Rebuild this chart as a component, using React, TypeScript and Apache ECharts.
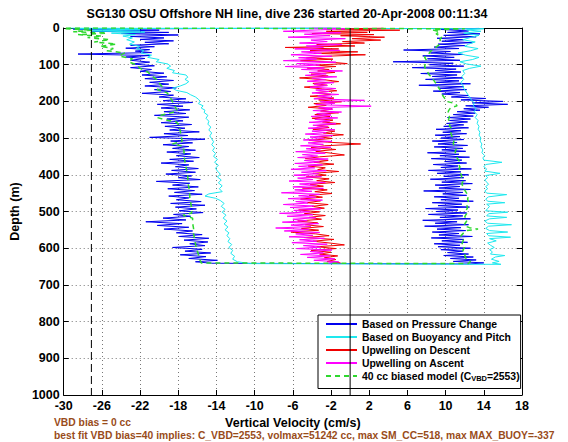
import React, { useEffect, useRef } from "react";
import * as echarts from "echarts";

// ---- axes ----
const X_MIN = -30;
const X_MAX = 18;
const X_STEP = 4;
const Y_MIN = 0;
const Y_MAX = 1000;
const Y_STEP = 100;

const TITLE = "SG130 OSU Offshore NH line, dive 236 started 20-Apr-2008 00:11:34";
const X_NAME = "Vertical Velocity (cm/s)";
const Y_NAME = "Depth (m)";
const NOTE_1 = "VBD bias = 0 cc";
const NOTE_2 = "best fit VBD bias=40 implies: C_VBD=2553, volmax=51242 cc, max SM_CC=518, max MAX_BUOY=-337";

const SERIES_NAMES = [
  "Based on Pressure Change",
  "Based on Buoyancy and Pitch",
  "Upwelling on Descent",
  "Upwelling on Ascent",
  "40 cc biased model (C_VBD=2553)",
];

// reference vertical lines (cm/s)
const ZERO_LINE = 0;
const BIAS_LINE = -27.1;

// ---- data: [velocity cm/s, depth m] ----
const BLUE_DESC = [
  [-1, 0], [-29, 3], [-20, 6], [-27, 9], [-19, 12], [-24, 15], [-18, 19], [-23, 23], [-19.5, 27], [-22, 31],
  [-18.5, 35], [-21.5, 39], [-19, 43], [-23, 47], [-20.5, 51], [-23.5, 55], [-21, 59], [-22.5, 63], [-20.8, 67],
  [-28.5, 71], [-21, 75], [-23.5, 79], [-21.5, 83], [-23, 88], [-21, 93], [-22.8, 98], [-20.5, 103], [-23, 108],
  [-20.8, 113], [-22, 118], [-19.5, 123], [-21.8, 128], [-19.2, 133], [-21.5, 138], [-18.5, 143], [-21, 148],
  [-19, 153], [-21.5, 158], [-18.2, 163], [-20.5, 168], [-18.8, 173], [-21.8, 178], [-18.5, 183], [-20, 188],
  [-17.2, 193], [-19.6, 198], [-16.5, 203], [-20.2, 208], [-17.5, 213], [-19.8, 218], [-16.8, 223], [-19.5, 228],
  [-17.2, 233], [-20.5, 238], [-16.9, 243], [-19.2, 248], [-17.5, 253], [-19.8, 258], [-16.6, 263], [-19.4, 268],
  [-17.3, 273], [-18.9, 278], [-15.8, 283], [-19.5, 288], [-17, 293], [-21, 298], [-15.2, 303], [-18.8, 308],
  [-16.5, 313], [-19.6, 318], [-16.9, 323], [-18.6, 328], [-16.2, 333], [-19.2, 338], [-16.7, 343], [-18.2, 348],
  [-15.8, 353], [-18.9, 358], [-16.4, 363], [-19.8, 368], [-16.9, 373], [-18.3, 378], [-15.9, 383], [-18.7, 388],
  [-16.2, 393], [-19.3, 398], [-16.6, 403], [-18, 408], [-15.7, 413], [-20.3, 418], [-16.8, 423], [-18.6, 428],
  [-15.9, 433], [-19.1, 438], [-16.3, 443], [-18.4, 448], [-15.5, 453], [-19, 458], [-16.9, 463], [-18.2, 468],
  [-15.6, 473], [-18.8, 478], [-15.2, 483], [-18.3, 488], [-16.1, 493], [-17.9, 498], [-15.4, 503], [-18.5, 508],
  [-16.7, 513], [-19.6, 518], [-17.2, 523], [-21.4, 528], [-17.6, 533], [-20.2, 538], [-16.9, 543], [-19.5, 548],
  [-16.5, 553], [-18.2, 558], [-15.5, 563], [-17.9, 568], [-14.8, 573], [-17.4, 578], [-14.9, 583], [-16.8, 588],
  [-15.2, 593], [-18.6, 598], [-15.5, 603], [-17.3, 608], [-14.6, 613], [-17.8, 618], [-15.1, 623], [-16.9, 628],
  [-13.9, 633], [-16.2, 637], [-14.5, 641],
];
const BLUE_ASC = [
  [12.5, 643], [14, 640], [10.8, 636], [13.2, 632], [10.5, 628], [12.9, 624], [9.8, 620], [12.4, 616], [10.2, 612],
  [11.8, 608], [9.5, 604], [12.6, 600], [9.2, 596], [11.5, 592], [8.8, 588], [12.3, 584], [9.6, 580], [11.9, 576],
  [8.5, 572], [12.8, 568], [9.3, 564], [11.4, 560], [8.6, 556], [12.1, 552], [9.1, 548], [11.6, 544], [7.8, 540],
  [12.4, 536], [8.9, 532], [11.2, 528], [7.6, 524], [12.6, 520], [9.4, 516], [11.8, 512], [8.2, 508], [12.2, 504],
  [9, 500], [11.3, 496], [7.9, 492], [12.5, 488], [9.2, 484], [11.7, 480], [8.6, 476], [12.9, 472], [9.5, 468],
  [11.4, 464], [8.8, 460], [12.2, 456], [9.7, 452], [11.8, 448], [7.7, 444], [12.6, 440], [9.3, 436], [11.5, 432],
  [8.9, 428], [12.8, 424], [9.6, 420], [12.1, 416], [8.4, 412], [11.9, 408], [9.8, 404], [12.4, 400], [9.1, 396],
  [11.6, 392], [8.2, 388], [12.7, 384], [9.5, 380], [11.3, 376], [8.7, 372], [12.2, 368], [9.9, 364], [11.7, 360],
  [8.5, 356], [12.5, 352], [9.4, 348], [11.4, 344], [8.1, 340], [12.1, 336], [9.6, 332], [11.8, 328], [8.8, 324],
  [12.3, 320], [9.2, 316], [11.2, 312], [8.6, 308], [11.9, 304], [9.5, 300], [11.5, 296], [8.9, 292], [12.2, 288],
  [9.7, 284], [11.6, 280], [9, 276], [12.4, 272], [9.8, 268], [11.9, 264], [10.1, 260], [12.3, 256], [10.4, 252],
  [12.6, 248], [10.2, 244], [12.9, 240], [10.8, 236], [13.1, 232], [11.2, 228], [13.6, 224], [11.9, 220],
  [14.5, 216], [12.1, 212], [16.5, 208], [12.8, 204], [16, 200], [11.6, 196], [14.2, 192], [10.6, 188],
  [12.4, 184], [9.6, 180], [11.5, 176], [8.7, 172], [12.2, 168], [9.3, 164], [11.9, 160], [7.2, 156], [12.6, 152],
  [9, 148], [11.4, 144], [7.9, 140], [11.8, 136], [8.6, 132], [11.2, 128], [7.4, 124], [11.6, 120], [8.9, 116],
  [11.1, 112], [6.5, 108], [11.9, 104], [8.3, 100], [10.8, 96], [4.5, 92], [11.5, 88], [8.1, 84], [10.9, 80],
  [7.6, 76], [11.8, 72], [8.4, 68], [10.5, 64], [5.6, 60], [11.4, 56], [8.8, 52], [12, 48], [9.2, 44], [12.8, 40],
  [9.6, 36], [11.9, 32], [9.1, 28], [13.2, 24], [9.8, 20], [13.6, 16], [10.2, 12], [12.4, 8], [9.5, 4], [13.5, 1],
];

const CYAN_DESC = [
  [-2, 0], [-28.5, 2], [-22, 5], [-27, 8], [-21.5, 11], [-25, 14], [-22.5, 18], [-23.8, 22], [-22.8, 27],
  [-23.4, 32], [-22.6, 38], [-23.1, 44], [-22, 50], [-22.4, 56], [-21.6, 62], [-21.9, 68], [-20.8, 74], [-21.2, 80],
  [-20, 86], [-20.3, 92], [-19.1, 98], [-18.8, 104], [-19.2, 110], [-18.4, 116], [-18.6, 122], [-17.2, 128],
  [-17, 134], [-17.3, 140], [-16.9, 146], [-17.2, 152], [-17.8, 158], [-18.6, 164], [-18.2, 170], [-17.1, 176],
  [-16.7, 182], [-16.2, 188], [-15.9, 194], [-15.7, 200], [-15.9, 206], [-15.4, 212], [-15.6, 218], [-15.2, 224],
  [-15.3, 230], [-14.9, 238], [-15.1, 246], [-14.8, 254], [-14.9, 262], [-14.6, 270], [-14.8, 278], [-14.5, 286],
  [-14.7, 294], [-14.5, 302], [-14.3, 310], [-14.5, 318], [-14.2, 326], [-14.4, 334], [-14.1, 342], [-14.3, 350],
  [-13.9, 358], [-14.2, 366], [-13.8, 374], [-14.1, 382], [-13.9, 390], [-13.6, 398], [-13.9, 406], [-13.5, 414],
  [-13.8, 422], [-13.4, 430], [-13.7, 438], [-13.4, 446], [-14.8, 452], [-15.2, 458], [-14.1, 464], [-13.6, 470],
  [-13.2, 478], [-13.5, 486], [-13.1, 494], [-13.4, 502], [-13, 510], [-13.3, 518], [-12.9, 526], [-13.2, 534],
  [-12.8, 542], [-13.1, 550], [-12.7, 558], [-12.9, 566], [-12.6, 574], [-12.8, 582], [-12.4, 590], [-12.7, 598],
  [-12.3, 606], [-12.5, 614], [-12.1, 622], [-12.3, 630], [-11.8, 637], [-10.5, 642],
];
const CYAN_ASC = [
  [15.8, 644], [14.9, 640], [15.6, 636], [14.8, 630], [15.2, 624], [16.2, 620], [14.7, 616], [14.9, 610],
  [14.6, 604], [15.1, 598], [14.7, 592], [14.4, 586], [15.3, 580], [14.6, 574], [16.8, 570], [14.5, 566],
  [14.3, 560], [16.5, 556], [14.6, 552], [14.2, 546], [14.5, 540], [16.9, 536], [14.4, 532], [14.1, 526],
  [14.6, 520], [16.4, 516], [14.3, 512], [14.5, 506], [16.5, 502], [14.2, 498], [14.4, 492], [14.6, 486],
  [14.3, 480], [16.2, 476], [14.4, 472], [14.2, 466], [14.5, 460], [16.4, 454], [14.3, 450], [14.1, 444],
  [14.4, 438], [14.2, 432], [14.5, 426], [14.3, 420], [14.1, 414], [14.4, 408], [14.2, 402], [15.7, 396],
  [14.1, 390], [14.3, 384], [14, 378], [14.2, 372], [15.9, 366], [14, 360], [13.9, 354], [14.1, 348], [13.8, 340],
  [13.9, 332], [13.7, 324], [13.8, 316], [13.6, 308], [13.7, 300], [13.5, 292], [13.6, 284], [13.4, 276],
  [13.5, 268], [13.3, 260], [13.4, 252], [13.1, 244], [13.3, 236], [13, 228], [13.2, 220], [12.9, 212], [13, 204],
  [12.7, 196], [12.5, 188], [12.3, 180], [12.1, 172], [11.9, 164], [11.8, 156], [11.6, 148], [11.9, 140],
  [11.7, 132], [12, 124], [11.8, 116], [12.5, 110], [13.7, 104], [12.2, 98], [11.5, 92], [12.8, 86], [13.5, 80],
  [12.1, 74], [11.3, 68], [12.6, 62], [13.4, 56], [12, 50], [12.4, 44], [13.1, 38], [11.8, 32], [12.6, 26],
  [13.5, 20], [11.9, 14], [13.7, 9], [12.2, 5], [14, 2], [-29.5, 0],
];

const RED_DESC = [
  [3.5, 0], [-1.5, 3], [5.2, 6], [-2.5, 9], [1.8, 12], [-4, 15], [2.5, 18], [-1, 21], [3.6, 25], [0.2, 29],
  [3.2, 33], [-0.8, 37], [1.5, 41], [-3.5, 45], [0.5, 49], [-6.8, 53], [-1.2, 57], [-4.2, 61], [0.8, 65],
  [-3.8, 69], [1.6, 73], [-2.5, 77], [-4.6, 81], [-1.8, 85], [-5.2, 89], [-2.1, 93], [-0.3, 97], [-3.6, 101],
  [-1.5, 105], [-4.5, 109], [-2.2, 113], [-3.4, 117], [-1.6, 121], [-4.1, 126], [-2.3, 131], [-5.3, 136],
  [-2.7, 141], [-1.2, 146], [-3.9, 151], [-2.4, 156], [-4.8, 161], [-2.9, 166], [-1.4, 171], [-3.6, 176],
  [-2, 181], [-4.2, 186], [-1.7, 191], [-3.3, 196], [-0.9, 201], [-3.8, 206], [-2.5, 211], [-4.4, 216],
  [-1.9, 221], [-3.1, 226], [-1.2, 231], [-3.7, 236], [-2.1, 241], [-4, 246], [-1.8, 251], [-2.9, 256], [-1, 261],
  [-3.5, 266], [-2.2, 271], [-3.9, 276], [-1.6, 281], [-2.8, 286], [-0.7, 291], [-3.3, 296], [-1.9, 301],
  [-4.3, 306], [-2.4, 311], [1.1, 316], [-2.7, 321], [-4.1, 326], [-1.5, 331], [-3.6, 336], [-2, 341], [-0.6, 346],
  [-3.2, 351], [-4.7, 356], [-2.3, 361], [-3.8, 366], [-1.7, 371], [-4.4, 376], [-2.6, 381], [-3.4, 386],
  [-1.2, 391], [-3.9, 396], [-2.5, 401], [-4.6, 406], [-2.2, 411], [-3.5, 416], [-1.6, 421], [-4.2, 426],
  [-2.8, 431], [-5, 436], [-2.4, 441], [-3.7, 446], [-1.9, 451], [-4.3, 456], [-2.9, 461], [-5.2, 466],
  [-3.1, 471], [-4.5, 476], [-2.3, 481], [-4, 486], [-2.7, 491], [-5.4, 496], [-3.2, 501], [-4.8, 506],
  [-2.6, 511], [-4.3, 516], [-3, 521], [-5.5, 526], [-3.4, 531], [-4.7, 536], [-2.8, 541], [-5.1, 546],
  [-3.3, 551], [-6.2, 556], [-3.6, 561], [-2.2, 566], [-4.8, 571], [-1.7, 576], [-3.9, 581], [-2.1, 586],
  [-0.6, 591], [-3.5, 596], [-1.5, 601], [-4.1, 606], [-2, 611], [-3.2, 616], [-1.3, 621], [-2.7, 626],
  [-1.5, 631], [-2.4, 636], [-1, 640],
];

const MAGENTA_ASC = [
  [-2.5, 641], [-1.2, 637], [-3.8, 633], [-1.6, 629], [-4.5, 625], [-2.1, 621], [-5.2, 617], [-2.8, 613],
  [-4.2, 609], [-1.9, 605], [-5.6, 601], [-3.1, 597], [-4.9, 593], [-2.4, 589], [-6.1, 585], [-3.5, 581],
  [-5.3, 577], [-2.7, 573], [-6.4, 569], [-3.9, 565], [-5.7, 561], [-3.2, 557], [-6.9, 553], [-4.3, 549],
  [-7.8, 545], [-4.1, 541], [-6.2, 537], [-3.3, 533], [-7.1, 529], [-4.5, 525], [-6, 521], [-3.6, 517],
  [-6.6, 513], [-3.9, 509], [-7.4, 505], [-4.2, 501], [-5.9, 497], [-3.1, 493], [-6.3, 489], [-3.8, 485],
  [-7, 481], [-4.4, 477], [-5.7, 473], [-2.9, 469], [-6.5, 465], [-3.6, 461], [-5.4, 457], [-3.2, 453],
  [-7.2, 449], [-4, 445], [-5.8, 441], [-2.8, 437], [-6, 433], [-3.5, 429], [-5.3, 425], [-2.6, 421],
  [-6.4, 417], [-3.9, 413], [-5.5, 409], [-3, 405], [-5.9, 401], [-3.3, 397], [-5.1, 393], [-2.5, 389],
  [-6.2, 385], [-3.7, 381], [-5.4, 377], [-2.9, 373], [-5.8, 369], [-3.2, 365], [-4.8, 361], [-2.3, 357],
  [-5.5, 353], [-3.4, 349], [-5, 345], [-2.6, 341], [-5.7, 337], [-3.1, 333], [-4.6, 329], [-2, 325],
  [-5.2, 321], [-2.8, 317], [-4.4, 313], [-1.9, 309], [-4.9, 305], [-2.7, 301], [-4.2, 297], [-1.8, 293],
  [-4.7, 289], [-2.5, 285], [-4, 281], [-1.6, 277], [-4.4, 273], [-2.3, 269], [-3.9, 265], [-1.5, 261],
  [-4.3, 257], [-2.1, 253], [-3.7, 249], [-1.3, 245], [-4.1, 241], [-2, 237], [-3.5, 233], [-0.9, 229],
  [-3.9, 225], [-1.8, 221], [-3.3, 217], [2.2, 213], [-3.6, 209], [-1.6, 205], [-3.1, 201], [1.5, 197],
  [-3.8, 193], [-1.9, 189], [-3.4, 185], [-1.2, 181], [-4, 177], [-2.2, 173], [-3.6, 169], [-1.5, 165],
  [-4.2, 161], [-2.4, 157], [-3.8, 153], [-1.7, 149], [-4.5, 145], [-2.6, 141], [-4, 137], [-1.4, 133],
  [-4.7, 129], [-2.5, 125], [-4.3, 121], [-0.8, 117], [-5.1, 113], [-2.7, 109], [-6.8, 105], [-3.2, 101],
  [-5.6, 97], [-1.5, 93], [-7, 89], [-3.5, 85], [-5.4, 81], [-1.9, 77], [-6.2, 73], [-3, 69], [-5.1, 65],
  [-1.1, 61], [-5.8, 57], [-2.8, 53], [-4.6, 49], [-0.9, 45], [-5.3, 41], [-2.4, 37], [-4.1, 33], [-0.5, 29],
  [-6.5, 25], [-2.1, 21], [-4.8, 17], [-1, 13], [-7, 9], [-3.1, 5], [-0.3, 2], [-4, 0],
];

const GREEN_DESC = [
  [-29.8, 2], [-27, 6], [-29, 10], [-25.5, 14], [-28.5, 18], [-26, 22], [-27.5, 26], [-25.2, 32], [-26.8, 38],
  [-24.5, 44], [-26.2, 50], [-24.8, 56], [-25.5, 62], [-23.6, 68], [-24.2, 76], [-22.8, 84], [-23.2, 92],
  [-22.4, 100], [-22, 110], [-21.2, 120], [-20.8, 130], [-20.3, 140], [-20, 150], [-19.7, 160], [-20.2, 168],
  [-19.2, 176], [-18.9, 186], [-18.7, 196], [-18.5, 206], [-18.3, 216], [-18.1, 226], [-18.9, 232], [-19.8, 238],
  [-20.2, 244], [-19.4, 250], [-18.2, 256], [-17.9, 266], [-17.8, 280], [-17.7, 294], [-17.6, 308], [-18.6, 316],
  [-17.5, 322], [-17.4, 336], [-17.4, 350], [-17.3, 364], [-17.2, 378], [-17.1, 392], [-17, 406], [-17, 420],
  [-16.9, 434], [-16.8, 448], [-16.8, 462], [-16.7, 476], [-16.6, 490], [-16.6, 504], [-17.5, 510], [-16.5, 518],
  [-16.5, 532], [-16.4, 546], [-16.4, 560], [-16.3, 574], [-16.2, 588], [-16.1, 602], [-15.9, 616], [-15.8, 628],
  [-15.6, 640],
];
const GREEN_ASC = [
  [12.4, 642], [12.6, 636], [12.2, 630], [12, 622], [12.1, 614], [11.8, 606], [12, 598], [11.7, 590], [11.8, 582],
  [11.9, 574], [11.6, 566], [11.9, 558], [12.2, 552], [13.4, 548], [12.5, 544], [11.9, 538], [12.1, 530],
  [12.3, 522], [12, 514], [12.2, 506], [12.1, 498], [12.3, 490], [12.2, 482], [12.4, 474], [12.3, 466],
  [12.4, 458], [12.2, 450], [12, 442], [11.9, 434], [11.7, 426], [11.8, 418], [11.6, 410], [11.7, 402],
  [11.5, 394], [11.4, 386], [11.5, 378], [11.3, 370], [11.4, 362], [11.2, 354], [11.1, 346], [11, 338],
  [11.1, 330], [10.9, 322], [10.8, 314], [10.9, 306], [10.7, 298], [10.6, 290], [10.5, 282], [10.6, 274],
  [10.4, 266], [10.5, 258], [10.3, 250], [10.4, 242], [10.2, 234], [10.3, 226], [10.5, 218], [11.2, 212],
  [11, 206], [10.1, 200], [9.9, 192], [9.7, 184], [9.6, 176], [9.4, 168], [9.2, 160], [9, 152], [8.8, 144],
  [8.6, 136], [8.3, 128], [8.1, 120], [7.9, 112], [7.8, 104], [7.9, 96], [8, 88], [7.8, 80], [8.2, 72], [8.4, 64],
  [8.8, 56], [9.2, 48], [9.5, 40], [9.4, 32], [9.6, 24], [9, 16], [9.4, 10], [8.6, 5], [12, 2], [-30, 0],
];

const COLORS = ["#0000ee", "#1ee8ee", "#f00000", "#ff00ff", "#2ed82e"];
const FONT = "'Liberation Sans', Arial, Helvetica, sans-serif";
const NOTE_COLOR = "#994c1a";

// shift so that the axis starts at 0 (ticks counted from min)
const toXY = (pts: number[][]) => pts.map(([v, d]) => [v - X_MIN, d]);

export default function App() {
  const ref = useRef<HTMLDivElement>(null);

  useEffect(() => {
    document.body.style.margin = "0";
    if (!ref.current) return;
    const chart = echarts.init(ref.current, undefined, { renderer: "svg" });

    const xTickCommon = {
      type: "value" as const,
      min: 0,
      max: X_MAX - X_MIN,
      interval: X_STEP,
      axisLine: { show: true, onZero: false, lineStyle: { color: "#000", width: 1 } },
      axisTick: { show: true, inside: true, length: 5, lineStyle: { color: "#000" } },
    };
    const yTickCommon = {
      type: "value" as const,
      min: Y_MIN,
      max: Y_MAX,
      interval: Y_STEP,
      inverse: true,
      axisLine: { show: true, onZero: false, lineStyle: { color: "#000", width: 1 } },
      axisTick: { show: true, inside: true, length: 5, lineStyle: { color: "#000" } },
    };
    const gridLine = { show: true, lineStyle: { color: "#777", type: [1, 3] as number[], width: 1 } };
    const labelStyle = { color: "#000", fontWeight: "bold" as const, fontSize: 12.5, fontFamily: FONT };

    const lineSeries = (name: string, data: number[][], color: string, z: number, dashed = false) => ({
      type: "line" as const,
      name,
      data: toXY(data),
      showSymbol: false,
      symbol: "none",
      silent: true,
      z,
      lineStyle: { color, width: dashed ? 1.5 : 1, type: dashed ? ([5, 4] as number[]) : "solid" },
      itemStyle: { color },
    });

    const vline = (v: number, dashed: boolean) => ({
      type: "line" as const,
      data: toXY([[v, Y_MIN], [v, Y_MAX]]),
      showSymbol: false,
      symbol: "none",
      silent: true,
      z: 10,
      lineStyle: { color: "#000", width: 1, type: dashed ? ([8, 4] as number[]) : "solid" },
    });

    chart.setOption({
      animation: false,
      backgroundColor: "#fff",
      grid: { left: 53, right: 46, top: 28, bottom: 47 },
      xAxis: [
        {
          ...xTickCommon,
          position: "bottom",
          name: X_NAME,
          nameLocation: "middle",
          nameGap: 17,
          nameTextStyle: { ...labelStyle },
          axisLabel: { ...labelStyle, margin: 4, formatter: (val: number) => String(val + X_MIN) },
          splitLine: gridLine,
        },
        {
          ...xTickCommon,
          position: "top",
          axisLabel: { show: false },
          splitLine: { show: false },
        },
      ],
      yAxis: [
        {
          ...yTickCommon,
          position: "left",
          name: Y_NAME,
          nameLocation: "middle",
          nameGap: 32,
          nameRotate: 90,
          nameTextStyle: { ...labelStyle },
          axisLabel: { ...labelStyle, margin: 4, formatter: (val: number) => String(val) },
          splitLine: gridLine,
        },
        {
          ...yTickCommon,
          position: "right",
          axisLabel: { show: false },
          splitLine: { show: false },
        },
      ],
      legend: {
        orient: "vertical",
        left: 318,
        top: 315,
        padding: [4, 1, 6, 7],
        itemWidth: 31,
        itemHeight: 10,
        itemGap: 3,
        selectedMode: false,
        backgroundColor: "#fff",
        borderColor: "#000",
        borderWidth: 1,
        borderRadius: 0,
        itemStyle: { opacity: 0 },
        data: SERIES_NAMES,
        formatter: (name: string) => name.replace("C_VBD", "C{sub|VBD}"),
        textStyle: {
          color: "#000",
          fontWeight: "bold",
          fontSize: 10.4,
          fontFamily: FONT,
          rich: {
            sub: { fontSize: 7.5, fontWeight: "bold", fontFamily: FONT, color: "#000", padding: [5, 0, 0, 0] },
          },
        },
      },
      graphic: [
        {
          type: "text",
          x: 287,
          y: 14,
          style: { text: TITLE, fill: "#000", fontSize: 12.5, fontWeight: "bold", fontFamily: FONT, align: "center", verticalAlign: "middle" },
        },
        {
          type: "text",
          x: 54,
          y: 422,
          style: { text: NOTE_1, fill: NOTE_COLOR, fontSize: 10.3, fontWeight: "bold", fontFamily: FONT, align: "left", verticalAlign: "middle" },
        },
        {
          type: "text",
          x: 54,
          y: 435,
          style: { text: NOTE_2, fill: NOTE_COLOR, fontSize: 10.3, fontWeight: "bold", fontFamily: FONT, align: "left", verticalAlign: "middle" },
        },
      ],
      series: [
        lineSeries(SERIES_NAMES[0], [...BLUE_DESC, ...BLUE_ASC], COLORS[0], 2),
        lineSeries(SERIES_NAMES[1], [...CYAN_DESC, ...CYAN_ASC], COLORS[1], 3),
        lineSeries(SERIES_NAMES[2], RED_DESC, COLORS[2], 4),
        lineSeries(SERIES_NAMES[3], MAGENTA_ASC, COLORS[3], 5),
        lineSeries(SERIES_NAMES[4], [...GREEN_DESC, ...GREEN_ASC], COLORS[4], 6, true),
        vline(ZERO_LINE, false),
        vline(BIAS_LINE, true),
      ],
    });

    return () => chart.dispose();
  }, []);

  return <div ref={ref} style={{ width: 568, height: 442 }} />;
}
